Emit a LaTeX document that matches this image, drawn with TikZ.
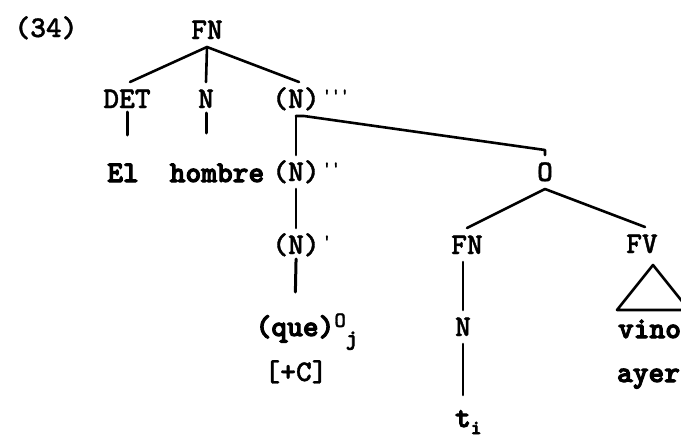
\documentclass[tikz,border=0pt]{standalone}
\usepackage{fontspec}
\usetikzlibrary{calc}
\newfontfamily\labfont{lmmonolt10-bold.otf}[FakeBold=1.2]
\newfontfamily\wrdfont{lmmonolt10-bold.otf}[FakeBold=3.5]
\newcommand\mkprimes[1]{\rlap{\raisebox{8pt}{\fontsize{17}{17}\selectfont\,#1}}}
\begin{document}
\begin{tikzpicture}[x=1pt,y=-1pt,
  lab/.style={font=\fontsize{30}{30}\labfont, inner sep=0pt, outer sep=8pt, text height=18pt, text depth=0pt},
  wrd/.style={lab, font=\fontsize{30}{30}\wrdfont},
  edge/.style={line width=2.6pt, line cap=round, line join=round},
  tick/.style={edge, line width=3pt}]
\useasboundingbox (0,0) rectangle (681,439);
\fill[white] (0,0) rectangle (681,439);
\clip (0,0) rectangle (681,439);
% labels
\node[lab] (ex) at (46,28) {(34)};
\node[lab] (fn) at (207,30) {FN};
\node[lab] (det) at (127,99) {DET};
\node[lab] (n1) at (206,99) {N};
\node[lab] (n3) at (296,99) {(N)\mkprimes{'{}'{}'}};
\node[wrd] (el) at (123,173) {El};
\node[wrd] (hombre) at (217,173) {hombre};
\node[lab] (n2) at (296,172) {(N)\mkprimes{'{}'}};
\node[lab] (o) at (545,172) {O};
\node[lab] (n1p) at (296,245) {(N)\mkprimes{'}};
\node[wrd] (que) at (295,327) {(que)\rlap{\raisebox{9pt}{\labfont\fontsize{22}{22}\selectfont O}\raisebox{-9pt}{\fontsize{22}{22}\selectfont j}}};
\node[lab] (plusc) at (296,372) {[+C]};
\node[lab] (fn2) at (467,245) {FN};
\node[lab] (fv) at (642,244) {FV};
\node[lab] (nn) at (463,327) {N};
\node[wrd] (ti) at (463,418) {t\rlap{\raisebox{-7pt}{\fontsize{20}{20}\selectfont i}}};
\node[wrd, anchor=west, outer sep=0pt] (vino) at (618,329) {vino};
\node[wrd, anchor=west, outer sep=0pt] (ayer) at (617,373) {ayer};
% connectors
\draw[edge] (fn.south) -- ([xshift=3pt]det.north);
\draw[edge] (fn.south) -- (n1.north);
\draw[edge] (fn.south) -- ([xshift=3pt]n3.north);
\draw[tick, shorten <=-4pt, shorten >=21pt] (det.south) -- (det.south |- el.north);
\draw[tick, shorten <=-3pt, shorten >=23pt] (n1.south) -- (n1.south |- hombre.north);
\draw[edge] (n3.south) -- (n2.north);
\draw[edge] (n3.south) -- ++(8,0) -- ([yshift=5pt]o.north) -- (o.north);
\draw[edge] (n2.south) -- (n1p.north);
\draw[tick, shorten <=-3pt, shorten >=18pt] (n1p.south) -- (que.north);
\draw[edge] (o.south) -- (fn2.north);
\draw[edge] (o.south) -- ([xshift=3pt]fv.north);
\draw[edge] ([xshift=-4pt]fn2.south) -- (nn.north);
\draw[edge, shorten >=6pt] (nn.south) -- (ti.north);
\coordinate (apex) at ([xshift=11pt,yshift=-4pt]fv.south);
\draw[edge] (apex) -- ++(-36,45) -- ++(72,0) -- cycle;
\end{tikzpicture}
\end{document}
